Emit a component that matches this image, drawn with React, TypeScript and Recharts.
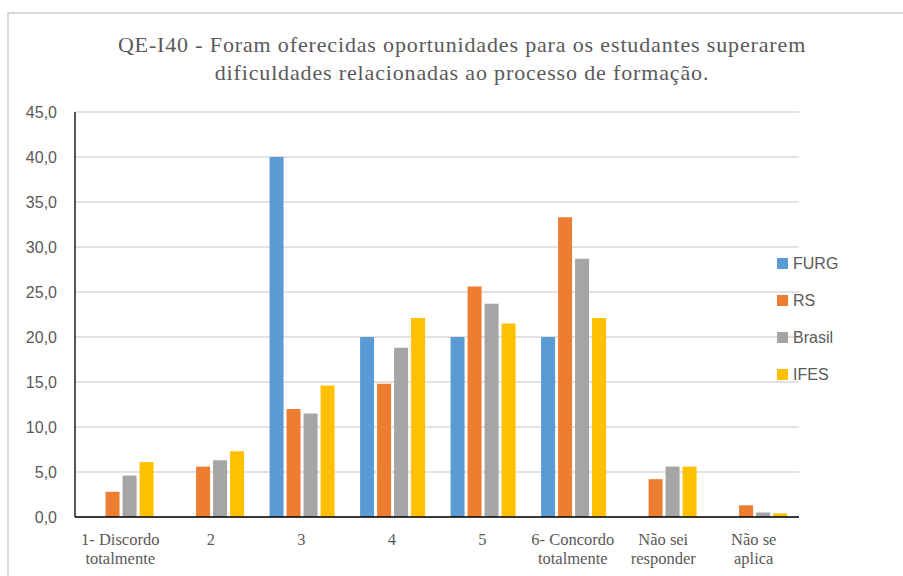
import React from 'react';
import { BarChart, Bar, XAxis, YAxis, CartesianGrid, Legend } from 'recharts';

const categories = [
  '1- Discordo\ntotalmente',
  '2',
  '3',
  '4',
  '5',
  '6- Concordo\ntotalmente',
  'Não sei\nresponder',
  'Não se\naplica',
];
const furg = [0, 0, 40.0, 20.0, 20.0, 20.0, 0, 0];
const rs = [2.8, 5.6, 12.0, 14.8, 25.6, 33.3, 4.2, 1.3];
const brasil = [4.6, 6.3, 11.5, 18.8, 23.7, 28.7, 5.6, 0.5];
const ifes = [6.1, 7.3, 14.6, 22.1, 21.5, 22.1, 5.6, 0.4];
const yTicks = [0, 5, 10, 15, 20, 25, 30, 35, 40, 45];
const titleLines = [
  'QE-I40 - Foram oferecidas oportunidades para os estudantes superarem',
  'dificuldades relacionadas ao processo de formação.',
];

const series = [
  { key: 'FURG', values: furg, color: '#5B9BD5' },
  { key: 'RS', values: rs, color: '#ED7D31' },
  { key: 'Brasil', values: brasil, color: '#A5A5A5' },
  { key: 'IFES', values: ifes, color: '#FFC000' },
];

const data = categories.map((c, i) => {
  const row: any = { name: c };
  series.forEach((s) => {
    row[s.key] = s.values[i];
  });
  return row;
});

const SERIF = "'Liberation Serif', 'Times New Roman', serif";

const XTick = (props: any) => {
  const { x, y, payload } = props;
  const lines = String(payload.value).split('\n');
  return (
    <g>
      <text
        x={x}
        y={y}
        textAnchor="middle"
        fill="#595959"
        style={{ fontFamily: SERIF, fontSize: '16.5px' }}
      >
        {lines.map((l, i) => (
          <tspan key={i} x={x} dy={i === 0 ? 27.5 : 19.5}>
            {l}
          </tspan>
        ))}
      </text>
    </g>
  );
};

const LegendContent = () => (
  <div style={{ fontFamily: "'Liberation Sans', Arial, sans-serif", fontSize: 16, color: '#595959' }}>
    {series.map((s) => (
      <div key={s.key} style={{ height: 37, display: 'flex', alignItems: 'center' }}>
        <span style={{ display: 'inline-block', width: 11, height: 11, background: s.color, marginRight: 5 }} />
        <span>{s.key}</span>
      </div>
    ))}
  </div>
);

export default function App() {
  return (
    <div style={{ position: 'absolute', left: 0, top: 0, width: 903, height: 576, overflow: 'hidden', background: '#fff' }}>
      <div
        style={{
          position: 'absolute',
          left: 7,
          top: 12,
          width: 1200,
          height: 1000,
          borderLeft: '2px solid #d9d9d9',
          borderTop: '2px solid #d9d9d9',
        }}
      />
      <div
        style={{
          position: 'absolute',
          left: 62,
          width: 800,
          top: 30.6,
          textAlign: 'center',
          fontFamily: SERIF,
          fontSize: 22,
          lineHeight: '28px',
          letterSpacing: 0.85,
          color: '#595959',
          whiteSpace: 'nowrap',
        }}
      >
        {titleLines.map((t, i) => (
          <div key={i}>{t}</div>
        ))}
      </div>
      <div style={{ position: 'absolute', left: 0, top: 0 }}>
        <BarChart
          width={903}
          height={576}
          data={data}
          margin={{ top: 112, right: 104, bottom: 0, left: 0 }}
          barCategoryGap="15%"
          barGap={3}
        >
          <CartesianGrid vertical={false} stroke="#d9d9d9" strokeWidth={1.3} />
          <XAxis
            dataKey="name"
            height={59}
            tickLine={false}
            tickSize={0}
            tickMargin={0}
            axisLine={{ stroke: '#000', strokeWidth: 1.3 }}
            tick={<XTick />}
            interval={0}
          />
          <YAxis
            width={75}
            domain={[0, 45]}
            ticks={yTicks}
            interval={0}
            tickLine={false}
            tickSize={0}
            tickMargin={18}
            axisLine={{ stroke: '#000', strokeWidth: 1.3 }}
            tickFormatter={(v: number) => v.toFixed(1).replace('.', ',')}
            tick={{ fill: '#595959', fontSize: 16, fontFamily: "'Liberation Sans', Arial, sans-serif" }}
          />
          <Legend
            layout="vertical"
            align="center"
            verticalAlign="middle"
            content={<LegendContent />}
            wrapperStyle={{ position: 'absolute', left: 777, top: 245, width: 110 }}
          />
          {series.map((s) => (
            <Bar key={s.key} dataKey={s.key} fill={s.color} isAnimationActive={false} />
          ))}
        </BarChart>
      </div>
    </div>
  );
}
